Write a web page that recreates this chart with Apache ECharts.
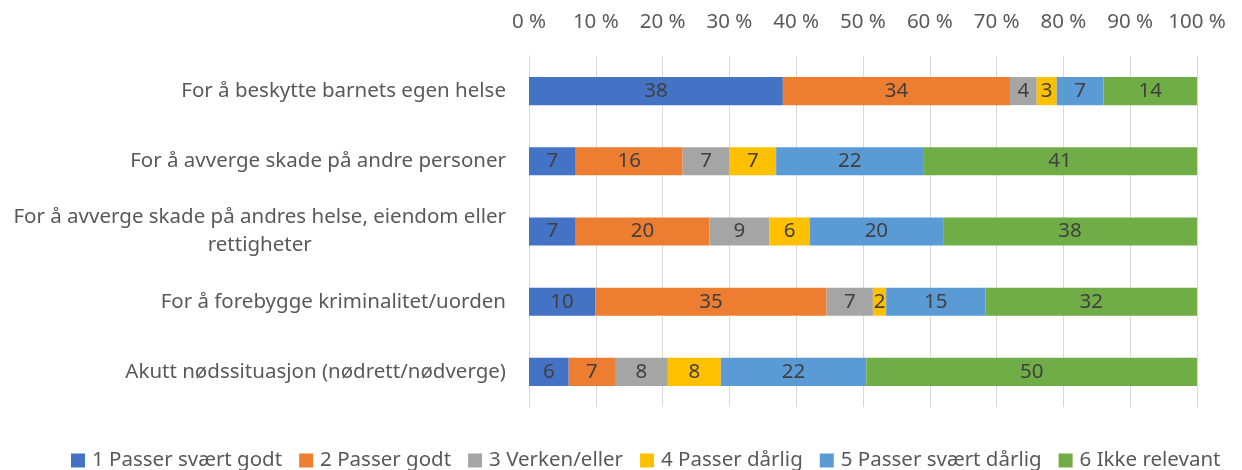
<!DOCTYPE html>
<html>
<head>
<meta charset="utf-8">
<script src="https://cdn.jsdelivr.net/npm/echarts@6/dist/echarts.min.js"></script>
<style>
  html, body { margin: 0; padding: 0; background: #fff; }
  #chart { width: 1242px; height: 470px; }
</style>
</head>
<body>
<div id="chart"></div>
<script>
// Reasons, top to bottom
const categories = [
  'For å beskytte barnets egen helse',
  'For å avverge skade på andre personer',
  'For å avverge skade på andres helse, eiendom eller\nrettigheter',
  'For å forebygge kriminalitet/uorden',
  'Akutt nødssituasjon (nødrett/nødverge)'
];

// Response options and their colours
const seriesNames = [
  '1 Passer svært godt',
  '2 Passer godt',
  '3 Verken/eller',
  '4 Passer dårlig',
  '5 Passer svært dårlig',
  '6 Ikke relevant'
];
const colors = ['#4472C4', '#ED7D31', '#A5A5A5', '#FFC000', '#5B9BD5', '#70AD47'];

// Shares (%) per response option, one entry per reason
const svaertGodt    = [38, 7, 7, 10, 6];
const godt          = [34, 16, 20, 35, 7];
const verkenEller   = [4, 7, 9, 7, 8];
const daarlig       = [3, 7, 6, 2, 8];
const svaertDaarlig = [7, 22, 20, 15, 22];
const ikkeRelevant  = [14, 41, 38, 32, 50];

const xTicks = [0, 10, 20, 30, 40, 50, 60, 70, 80, 90, 100];

const seriesValues = [svaertGodt, godt, verkenEller, daarlig, svaertDaarlig, ikkeRelevant];

// Each row is stacked to a full 100 % bar (rows are normalised by their total)
const rowTotals = categories.map((_, i) =>
  seriesValues.reduce((s, arr) => s + arr[i], 0));

const FONT = '"Noto Sans", sans-serif';
const FS = 20.5;

const chart = echarts.init(document.getElementById('chart'), null, { renderer: 'canvas' });

chart.setOption({
  animation: false,
  textStyle: { fontFamily: FONT },
  grid: { left: 529, right: 45, top: 56, bottom: 63, containLabel: false },
  xAxis: {
    type: 'value',
    position: 'top',
    min: xTicks[0],
    max: xTicks[xTicks.length - 1],
    interval: xTicks[1] - xTicks[0],
    axisLine: { show: false },
    axisTick: { show: false },
    splitLine: { show: true, lineStyle: { color: '#D9D9D9', width: 1 } },
    axisLabel: {
      formatter: '{value} %',
      color: '#595959',
      fontSize: FS,
      fontFamily: FONT,
      margin: 23
    }
  },
  yAxis: {
    type: 'category',
    inverse: true,
    data: categories,
    axisLine: { show: true, lineStyle: { color: '#D9D9D9', width: 1 } },
    axisTick: { show: false },
    axisLabel: {
      color: '#595959',
      fontSize: FS,
      fontFamily: FONT,
      margin: 23,
      lineHeight: 28,
      formatter: v => v.split('\n').map(l => '{c|' + l + '}').join('\n'),
      rich: {
        c: { align: 'center', color: '#595959', fontSize: FS, fontFamily: FONT, lineHeight: 28 }
      }
    }
  },
  legend: {
    top: 445,
    left: 66,
    icon: 'rect',
    itemWidth: 14,
    itemHeight: 14,
    itemGap: 17,
    textStyle: { color: '#595959', fontSize: FS, fontFamily: FONT, padding: [0, 0, 0, 2] },
    data: seriesNames
  },
  series: seriesNames.map((name, k) => ({
    name,
    type: 'bar',
    stack: 'total',
    barWidth: '40%',
    itemStyle: { color: colors[k] },
    label: {
      show: true,
      position: 'inside',
      color: '#404040',
      fontSize: FS,
      fontFamily: FONT,
      formatter: p => p.data.raw
    },
    data: seriesValues[k].map((v, i) => ({ value: v / rowTotals[i] * 100, raw: v }))
  }))
});
</script>
</body>
</html>
